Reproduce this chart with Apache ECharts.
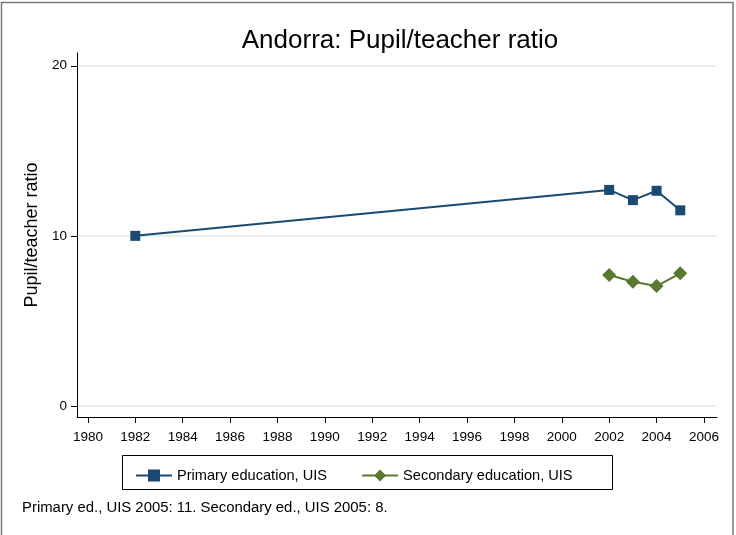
<!DOCTYPE html>
<html>
<head>
<meta charset="utf-8">
<script src="https://cdn.jsdelivr.net/npm/echarts@6/dist/echarts.min.js"></script>
<style>
  html, body { margin: 0; padding: 0; background: #fff; }
  #main { width: 736px; height: 535px; }
</style>
</head>
<body>
<div id="main"></div>
<script>
var primaryYears = [1982, 2002, 2003, 2004, 2005];
var primaryValues = [10.0, 12.7, 12.1, 12.65, 11.5];
var secondaryYears = [2002, 2003, 2004, 2005];
var secondaryValues = [7.7, 7.3, 7.05, 7.8];
var xTicks = [1980, 1982, 1984, 1986, 1988, 1990, 1992, 1994, 1996, 1998, 2000, 2002, 2004, 2006];
var yTicks = [0, 10, 20];
var seriesNames = ['Primary education, UIS', 'Secondary education, UIS'];

var pairs = function (xs, ys) {
    var out = [];
    for (var i = 0; i < xs.length; i++) {
        out.push([xs[i], ys[i]]);
    }
    return out;
};

var font = '"Liberation Sans", Arial, sans-serif';
var myChart = echarts.init(document.getElementById('main'));
var option = {
    animation: false,
    title: {
        text: 'Andorra: Pupil/teacher ratio',
        left: 395,
        top: 23,
        textAlign: 'center',
        textStyle: { fontFamily: font, fontWeight: 'normal', fontSize: 26, color: '#000' }
    },
    graphic: [
        {
            type: 'rect',
            shape: { x: 1.5, y: 2.5, width: 731.5, height: 540 },
            style: { fill: 'none', stroke: '#7a7a7a', lineWidth: 1.5 }
        },
        {
            type: 'rect',
            shape: { x: 122.5, y: 455.5, width: 490, height: 34 },
            style: { fill: 'none', stroke: '#000', lineWidth: 1 }
        },
        {
            type: 'text',
            left: 22,
            top: 500,
            style: {
                text: 'Primary ed., UIS 2005: 11. Secondary ed., UIS 2005: 8.',
                font: '14.9px ' + font,
                fill: '#000'
            }
        }
    ],
    legend: {
        data: seriesNames,
        left: 130,
        top: 463,
        itemWidth: 36,
        itemHeight: 15,
        itemGap: 34,
        textStyle: { fontFamily: font, fontSize: 14.6, color: '#000' }
    },
    grid: { left: 77, right: 19, top: 53, bottom: 118 },
    xAxis: {
        type: 'value',
        min: 1979.54,
        max: 2006.55,
        axisLine: { onZero: false, lineStyle: { color: '#000', width: 1 } },
        axisTick: { customValues: xTicks, length: 6, lineStyle: { color: '#000' } },
        axisLabel: {
            customValues: xTicks,
            formatter: function (v) { return String(v); },
            fontFamily: font, fontSize: 13.5, color: '#000', margin: 13
        },
        splitLine: { show: false }
    },
    yAxis: {
        type: 'value',
        min: -0.65,
        max: 20.75,
        name: 'Pupil/teacher ratio',
        nameLocation: 'middle',
        nameGap: 36,
        nameTextStyle: { fontFamily: font, fontSize: 18, color: '#000' },
        axisLine: { show: true, lineStyle: { color: '#000', width: 1 } },
        axisTick: { show: true, customValues: yTicks, length: 6, lineStyle: { color: '#000', width: 1 } },
        axisLabel: {
            customValues: yTicks,
            fontFamily: font, fontSize: 13.5, color: '#000', margin: 10
        },
        splitLine: { show: true, lineStyle: { color: '#e8eff2', width: 2 } }
    },
    series: [
        {
            name: seriesNames[0],
            type: 'line',
            data: pairs(primaryYears, primaryValues),
            symbol: 'rect',
            symbolSize: 10,
            itemStyle: { color: '#1a4a72' },
            lineStyle: { color: '#1a4a72', width: 2 }
        },
        {
            name: seriesNames[1],
            type: 'line',
            data: pairs(secondaryYears, secondaryValues),
            symbol: 'diamond',
            symbolSize: 14,
            itemStyle: { color: '#587a2f' },
            lineStyle: { color: '#587a2f', width: 2 }
        }
    ]
};
myChart.setOption(option);
</script>
</body>
</html>
